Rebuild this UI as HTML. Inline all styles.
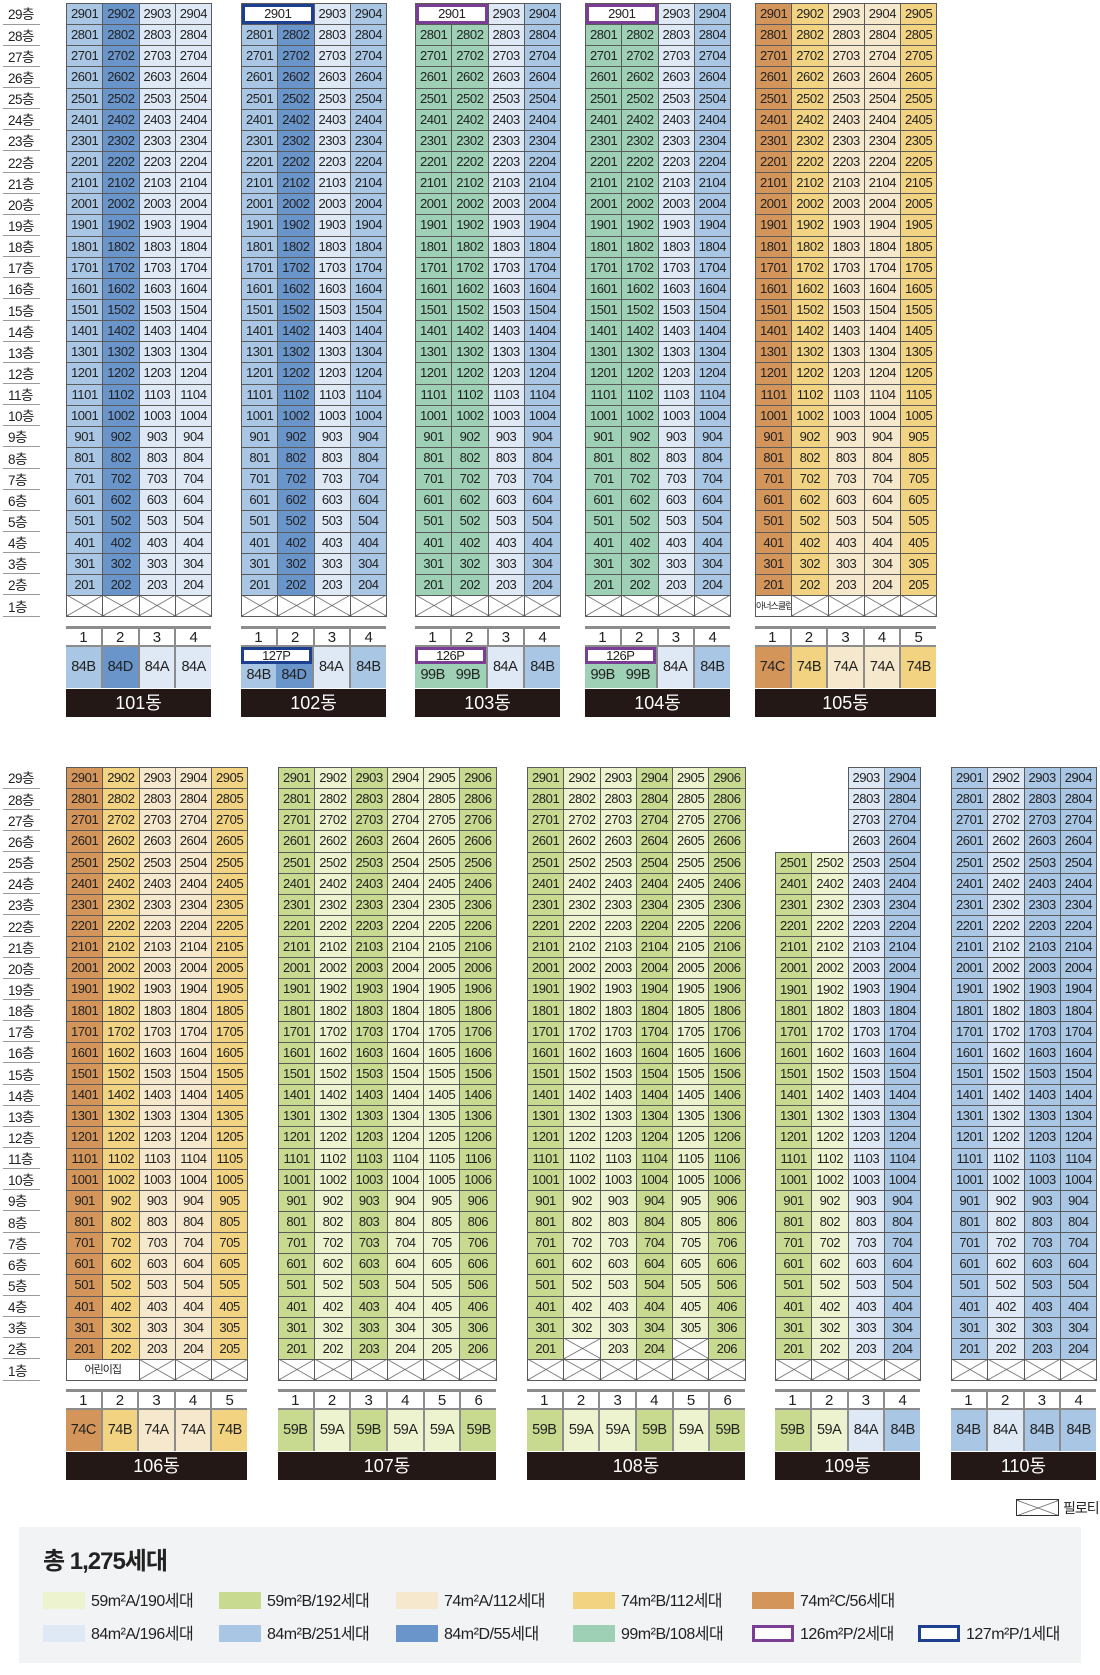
<!DOCTYPE html>
<html><head><meta charset="utf-8"><style>
body{margin:0;width:1100px;height:1675px;background:#fff;position:relative;font-family:"Liberation Sans","Noto Sans CJK KR",sans-serif;color:#222;overflow:hidden}
table{position:absolute;border-collapse:collapse;table-layout:fixed}
.g col{width:36.25px}
.g td{height:20.15px;padding:0;border:1px solid #5a5a5a;text-align:center;font-size:13px;letter-spacing:-0.4px;line-height:20px;white-space:nowrap;overflow:hidden}
.g tr{height:21.15px}
.p td,td.p{background:linear-gradient(to top right,transparent calc(50% - .7px),#555 50%,transparent calc(50% + .7px)),linear-gradient(to bottom right,transparent calc(50% - .7px),#555 50%,transparent calc(50% + .7px)),#fff!important}
td.nv{background:#fff!important;box-shadow:inset 0 0 0 3px #1d3f8f}
td.pu{background:#fff!important;box-shadow:inset 0 0 0 3px #7a3e95}
td.w{background:#fff!important;font-size:9px;letter-spacing:-1px}
.fl td{width:32px;height:20.15px;padding:0 0 0 5px;border-bottom:1px solid #999;font-size:13.5px;letter-spacing:-0.5px}
.fl tr{height:21.15px}
.A{background:#dfe9f6}.B{background:#a9c6e4}.D{background:#6a95cb}.G{background:#9dd0b4}
.yA{background:#f6e8cc}.yB{background:#f1d382}.yC{background:#d4955a}
.sA{background:#eef3cf}.sB{background:#c8d990}
.ft{position:absolute}
.nums{display:flex;height:16px;border-top:3px solid #8c8c8c}
.nums span,.ty>span{flex:1;text-align:center;border-left:2px solid #8c8c8c}
.nums span:first-child,.ty>span:first-child{border-left:none}
.nums span{font-size:15px;line-height:17px;background:#fff}
.ty{display:flex;height:41px;border-top:2px solid #8c8c8c}
.ty>span{font-size:14.5px;line-height:41px;letter-spacing:-0.5px}
.nm{height:28px;margin-top:1px;background:#231815;color:#fff;text-align:center;font-size:18px;line-height:29px}
.two{flex:2!important;display:flex;flex-direction:column;line-height:normal!important}
.two .bx{height:17px;line-height:17px;background:#fff;font-size:13px;box-sizing:border-box}
.two .hv{display:flex;flex:1}
.two .hv span{flex:1;line-height:23px;text-align:center}
.lg{position:absolute;left:19px;top:1527px;width:1062px;height:136px;background:#f2f3f5}
.it{position:absolute;font-size:16px;letter-spacing:-0.5px;line-height:18px;white-space:nowrap}
.it i{display:inline-block;width:42px;height:17px;vertical-align:-3px;margin-right:6px;box-sizing:border-box}
</style></head><body>

<table class="fl" style="left:3px;top:3px"><tr><td>29층<tr><td>28층<tr><td>27층<tr><td>26층<tr><td>25층<tr><td>24층<tr><td>23층<tr><td>22층<tr><td>21층<tr><td>20층<tr><td>19층<tr><td>18층<tr><td>17층<tr><td>16층<tr><td>15층<tr><td>14층<tr><td>13층<tr><td>12층<tr><td>11층<tr><td>10층<tr><td>9층<tr><td>8층<tr><td>7층<tr><td>6층<tr><td>5층<tr><td>4층<tr><td>3층<tr><td>2층<tr><td>1층</table>
<table class="fl" style="left:3px;top:767px"><tr><td>29층<tr><td>28층<tr><td>27층<tr><td>26층<tr><td>25층<tr><td>24층<tr><td>23층<tr><td>22층<tr><td>21층<tr><td>20층<tr><td>19층<tr><td>18층<tr><td>17층<tr><td>16층<tr><td>15층<tr><td>14층<tr><td>13층<tr><td>12층<tr><td>11층<tr><td>10층<tr><td>9층<tr><td>8층<tr><td>7층<tr><td>6층<tr><td>5층<tr><td>4층<tr><td>3층<tr><td>2층<tr><td>1층</table>

<!-- 101 -->
<table class="g" style="left:66px;top:3px;width:145px"><colgroup><col class="B"><col class="D"><col class="A"><col class="A"></colgroup>
<tr><td>2901<td>2902<td>2903<td>2904<tr><td>2801<td>2802<td>2803<td>2804<tr><td>2701<td>2702<td>2703<td>2704<tr><td>2601<td>2602<td>2603<td>2604<tr><td>2501<td>2502<td>2503<td>2504<tr><td>2401<td>2402<td>2403<td>2404<tr><td>2301<td>2302<td>2303<td>2304<tr><td>2201<td>2202<td>2203<td>2204<tr><td>2101<td>2102<td>2103<td>2104<tr><td>2001<td>2002<td>2003<td>2004<tr><td>1901<td>1902<td>1903<td>1904<tr><td>1801<td>1802<td>1803<td>1804<tr><td>1701<td>1702<td>1703<td>1704<tr><td>1601<td>1602<td>1603<td>1604<tr><td>1501<td>1502<td>1503<td>1504<tr><td>1401<td>1402<td>1403<td>1404<tr><td>1301<td>1302<td>1303<td>1304<tr><td>1201<td>1202<td>1203<td>1204<tr><td>1101<td>1102<td>1103<td>1104<tr><td>1001<td>1002<td>1003<td>1004<tr><td>901<td>902<td>903<td>904<tr><td>801<td>802<td>803<td>804<tr><td>701<td>702<td>703<td>704<tr><td>601<td>602<td>603<td>604<tr><td>501<td>502<td>503<td>504<tr><td>401<td>402<td>403<td>404<tr><td>301<td>302<td>303<td>304<tr><td>201<td>202<td>203<td>204<tr class="p"><td><td><td><td></table>
<div class="ft" style="left:66px;top:626px;width:145px"><div class="nums"><span>1</span><span>2</span><span>3</span><span>4</span></div><div class="ty"><span class="B">84B</span><span class="D">84D</span><span class="A">84A</span><span class="A">84A</span></div><div class="nm">101동</div></div>

<!-- 102 -->
<table class="g" style="left:241px;top:3px;width:145px"><colgroup><col class="B"><col class="D"><col class="A"><col class="B"></colgroup>
<tr><td colspan="2" class="nv">2901<td>2903<td>2904<tr><td>2801<td>2802<td>2803<td>2804<tr><td>2701<td>2702<td>2703<td>2704<tr><td>2601<td>2602<td>2603<td>2604<tr><td>2501<td>2502<td>2503<td>2504<tr><td>2401<td>2402<td>2403<td>2404<tr><td>2301<td>2302<td>2303<td>2304<tr><td>2201<td>2202<td>2203<td>2204<tr><td>2101<td>2102<td>2103<td>2104<tr><td>2001<td>2002<td>2003<td>2004<tr><td>1901<td>1902<td>1903<td>1904<tr><td>1801<td>1802<td>1803<td>1804<tr><td>1701<td>1702<td>1703<td>1704<tr><td>1601<td>1602<td>1603<td>1604<tr><td>1501<td>1502<td>1503<td>1504<tr><td>1401<td>1402<td>1403<td>1404<tr><td>1301<td>1302<td>1303<td>1304<tr><td>1201<td>1202<td>1203<td>1204<tr><td>1101<td>1102<td>1103<td>1104<tr><td>1001<td>1002<td>1003<td>1004<tr><td>901<td>902<td>903<td>904<tr><td>801<td>802<td>803<td>804<tr><td>701<td>702<td>703<td>704<tr><td>601<td>602<td>603<td>604<tr><td>501<td>502<td>503<td>504<tr><td>401<td>402<td>403<td>404<tr><td>301<td>302<td>303<td>304<tr><td>201<td>202<td>203<td>204<tr class="p"><td><td><td><td></table>
<div class="ft" style="left:241px;top:626px;width:145px"><div class="nums"><span>1</span><span>2</span><span>3</span><span>4</span></div><div class="ty"><span class="two"><span class="bx" style="border:3px solid #1d3f8f;line-height:11px">127P</span><span class="hv"><span class="B">84B</span><span class="D">84D</span></span></span><span class="A">84A</span><span class="B">84B</span></div><div class="nm">102동</div></div>

<!-- 103 -->
<table class="g" style="left:415px;top:3px;width:145px"><colgroup><col class="G"><col class="G"><col class="A"><col class="B"></colgroup>
<tr><td colspan="2" class="pu">2901<td>2903<td>2904<tr><td>2801<td>2802<td>2803<td>2804<tr><td>2701<td>2702<td>2703<td>2704<tr><td>2601<td>2602<td>2603<td>2604<tr><td>2501<td>2502<td>2503<td>2504<tr><td>2401<td>2402<td>2403<td>2404<tr><td>2301<td>2302<td>2303<td>2304<tr><td>2201<td>2202<td>2203<td>2204<tr><td>2101<td>2102<td>2103<td>2104<tr><td>2001<td>2002<td>2003<td>2004<tr><td>1901<td>1902<td>1903<td>1904<tr><td>1801<td>1802<td>1803<td>1804<tr><td>1701<td>1702<td>1703<td>1704<tr><td>1601<td>1602<td>1603<td>1604<tr><td>1501<td>1502<td>1503<td>1504<tr><td>1401<td>1402<td>1403<td>1404<tr><td>1301<td>1302<td>1303<td>1304<tr><td>1201<td>1202<td>1203<td>1204<tr><td>1101<td>1102<td>1103<td>1104<tr><td>1001<td>1002<td>1003<td>1004<tr><td>901<td>902<td>903<td>904<tr><td>801<td>802<td>803<td>804<tr><td>701<td>702<td>703<td>704<tr><td>601<td>602<td>603<td>604<tr><td>501<td>502<td>503<td>504<tr><td>401<td>402<td>403<td>404<tr><td>301<td>302<td>303<td>304<tr><td>201<td>202<td>203<td>204<tr class="p"><td><td><td><td></table>
<div class="ft" style="left:415px;top:626px;width:145px"><div class="nums"><span>1</span><span>2</span><span>3</span><span>4</span></div><div class="ty"><span class="two"><span class="bx" style="border:3px solid #7a3e95;line-height:11px">126P</span><span class="hv"><span class="G">99B</span><span class="G">99B</span></span></span><span class="A">84A</span><span class="B">84B</span></div><div class="nm">103동</div></div>

<!-- 104 -->
<table class="g" style="left:585px;top:3px;width:145px"><colgroup><col class="G"><col class="G"><col class="A"><col class="B"></colgroup>
<tr><td colspan="2" class="pu">2901<td>2903<td>2904<tr><td>2801<td>2802<td>2803<td>2804<tr><td>2701<td>2702<td>2703<td>2704<tr><td>2601<td>2602<td>2603<td>2604<tr><td>2501<td>2502<td>2503<td>2504<tr><td>2401<td>2402<td>2403<td>2404<tr><td>2301<td>2302<td>2303<td>2304<tr><td>2201<td>2202<td>2203<td>2204<tr><td>2101<td>2102<td>2103<td>2104<tr><td>2001<td>2002<td>2003<td>2004<tr><td>1901<td>1902<td>1903<td>1904<tr><td>1801<td>1802<td>1803<td>1804<tr><td>1701<td>1702<td>1703<td>1704<tr><td>1601<td>1602<td>1603<td>1604<tr><td>1501<td>1502<td>1503<td>1504<tr><td>1401<td>1402<td>1403<td>1404<tr><td>1301<td>1302<td>1303<td>1304<tr><td>1201<td>1202<td>1203<td>1204<tr><td>1101<td>1102<td>1103<td>1104<tr><td>1001<td>1002<td>1003<td>1004<tr><td>901<td>902<td>903<td>904<tr><td>801<td>802<td>803<td>804<tr><td>701<td>702<td>703<td>704<tr><td>601<td>602<td>603<td>604<tr><td>501<td>502<td>503<td>504<tr><td>401<td>402<td>403<td>404<tr><td>301<td>302<td>303<td>304<tr><td>201<td>202<td>203<td>204<tr class="p"><td><td><td><td></table>
<div class="ft" style="left:585px;top:626px;width:145px"><div class="nums"><span>1</span><span>2</span><span>3</span><span>4</span></div><div class="ty"><span class="two"><span class="bx" style="border:3px solid #7a3e95;line-height:11px">126P</span><span class="hv"><span class="G">99B</span><span class="G">99B</span></span></span><span class="A">84A</span><span class="B">84B</span></div><div class="nm">104동</div></div>

<!-- 105 -->
<table class="g" style="left:755px;top:3px;width:181px"><colgroup><col class="yC"><col class="yB"><col class="yA"><col class="yA"><col class="yB"></colgroup>
<tr><td>2901<td>2902<td>2903<td>2904<td>2905<tr><td>2801<td>2802<td>2803<td>2804<td>2805<tr><td>2701<td>2702<td>2703<td>2704<td>2705<tr><td>2601<td>2602<td>2603<td>2604<td>2605<tr><td>2501<td>2502<td>2503<td>2504<td>2505<tr><td>2401<td>2402<td>2403<td>2404<td>2405<tr><td>2301<td>2302<td>2303<td>2304<td>2305<tr><td>2201<td>2202<td>2203<td>2204<td>2205<tr><td>2101<td>2102<td>2103<td>2104<td>2105<tr><td>2001<td>2002<td>2003<td>2004<td>2005<tr><td>1901<td>1902<td>1903<td>1904<td>1905<tr><td>1801<td>1802<td>1803<td>1804<td>1805<tr><td>1701<td>1702<td>1703<td>1704<td>1705<tr><td>1601<td>1602<td>1603<td>1604<td>1605<tr><td>1501<td>1502<td>1503<td>1504<td>1505<tr><td>1401<td>1402<td>1403<td>1404<td>1405<tr><td>1301<td>1302<td>1303<td>1304<td>1305<tr><td>1201<td>1202<td>1203<td>1204<td>1205<tr><td>1101<td>1102<td>1103<td>1104<td>1105<tr><td>1001<td>1002<td>1003<td>1004<td>1005<tr><td>901<td>902<td>903<td>904<td>905<tr><td>801<td>802<td>803<td>804<td>805<tr><td>701<td>702<td>703<td>704<td>705<tr><td>601<td>602<td>603<td>604<td>605<tr><td>501<td>502<td>503<td>504<td>505<tr><td>401<td>402<td>403<td>404<td>405<tr><td>301<td>302<td>303<td>304<td>305<tr><td>201<td>202<td>203<td>204<td>205<tr><td class="w">아너스클럽<td class="p"><td class="p"><td class="p"><td class="p"></table>
<div class="ft" style="left:755px;top:626px;width:181px"><div class="nums"><span>1</span><span>2</span><span>3</span><span>4</span><span>5</span></div><div class="ty"><span class="yC">74C</span><span class="yB">74B</span><span class="yA">74A</span><span class="yA">74A</span><span class="yB">74B</span></div><div class="nm">105동</div></div>

<!-- 106 -->
<table class="g" style="left:66px;top:767px;width:181px"><colgroup><col class="yC"><col class="yB"><col class="yA"><col class="yA"><col class="yB"></colgroup>
<tr><td>2901<td>2902<td>2903<td>2904<td>2905<tr><td>2801<td>2802<td>2803<td>2804<td>2805<tr><td>2701<td>2702<td>2703<td>2704<td>2705<tr><td>2601<td>2602<td>2603<td>2604<td>2605<tr><td>2501<td>2502<td>2503<td>2504<td>2505<tr><td>2401<td>2402<td>2403<td>2404<td>2405<tr><td>2301<td>2302<td>2303<td>2304<td>2305<tr><td>2201<td>2202<td>2203<td>2204<td>2205<tr><td>2101<td>2102<td>2103<td>2104<td>2105<tr><td>2001<td>2002<td>2003<td>2004<td>2005<tr><td>1901<td>1902<td>1903<td>1904<td>1905<tr><td>1801<td>1802<td>1803<td>1804<td>1805<tr><td>1701<td>1702<td>1703<td>1704<td>1705<tr><td>1601<td>1602<td>1603<td>1604<td>1605<tr><td>1501<td>1502<td>1503<td>1504<td>1505<tr><td>1401<td>1402<td>1403<td>1404<td>1405<tr><td>1301<td>1302<td>1303<td>1304<td>1305<tr><td>1201<td>1202<td>1203<td>1204<td>1205<tr><td>1101<td>1102<td>1103<td>1104<td>1105<tr><td>1001<td>1002<td>1003<td>1004<td>1005<tr><td>901<td>902<td>903<td>904<td>905<tr><td>801<td>802<td>803<td>804<td>805<tr><td>701<td>702<td>703<td>704<td>705<tr><td>601<td>602<td>603<td>604<td>605<tr><td>501<td>502<td>503<td>504<td>505<tr><td>401<td>402<td>403<td>404<td>405<tr><td>301<td>302<td>303<td>304<td>305<tr><td>201<td>202<td>203<td>204<td>205<tr><td colspan="2" class="w" style="font-size:11px">어린이집<td class="p"><td class="p"><td class="p"></table>
<div class="ft" style="left:66px;top:1389px;width:181px"><div class="nums"><span>1</span><span>2</span><span>3</span><span>4</span><span>5</span></div><div class="ty"><span class="yC">74C</span><span class="yB">74B</span><span class="yA">74A</span><span class="yA">74A</span><span class="yB">74B</span></div><div class="nm">106동</div></div>

<!-- 107 -->
<table class="g" style="left:278px;top:767px;width:218px"><colgroup><col class="sB"><col class="sA"><col class="sB"><col class="sA"><col class="sA"><col class="sB"></colgroup>
<tr><td>2901<td>2902<td>2903<td>2904<td>2905<td>2906<tr><td>2801<td>2802<td>2803<td>2804<td>2805<td>2806<tr><td>2701<td>2702<td>2703<td>2704<td>2705<td>2706<tr><td>2601<td>2602<td>2603<td>2604<td>2605<td>2606<tr><td>2501<td>2502<td>2503<td>2504<td>2505<td>2506<tr><td>2401<td>2402<td>2403<td>2404<td>2405<td>2406<tr><td>2301<td>2302<td>2303<td>2304<td>2305<td>2306<tr><td>2201<td>2202<td>2203<td>2204<td>2205<td>2206<tr><td>2101<td>2102<td>2103<td>2104<td>2105<td>2106<tr><td>2001<td>2002<td>2003<td>2004<td>2005<td>2006<tr><td>1901<td>1902<td>1903<td>1904<td>1905<td>1906<tr><td>1801<td>1802<td>1803<td>1804<td>1805<td>1806<tr><td>1701<td>1702<td>1703<td>1704<td>1705<td>1706<tr><td>1601<td>1602<td>1603<td>1604<td>1605<td>1606<tr><td>1501<td>1502<td>1503<td>1504<td>1505<td>1506<tr><td>1401<td>1402<td>1403<td>1404<td>1405<td>1406<tr><td>1301<td>1302<td>1303<td>1304<td>1305<td>1306<tr><td>1201<td>1202<td>1203<td>1204<td>1205<td>1206<tr><td>1101<td>1102<td>1103<td>1104<td>1105<td>1106<tr><td>1001<td>1002<td>1003<td>1004<td>1005<td>1006<tr><td>901<td>902<td>903<td>904<td>905<td>906<tr><td>801<td>802<td>803<td>804<td>805<td>806<tr><td>701<td>702<td>703<td>704<td>705<td>706<tr><td>601<td>602<td>603<td>604<td>605<td>606<tr><td>501<td>502<td>503<td>504<td>505<td>506<tr><td>401<td>402<td>403<td>404<td>405<td>406<tr><td>301<td>302<td>303<td>304<td>305<td>306<tr><td>201<td>202<td>203<td>204<td>205<td>206<tr class="p"><td><td><td><td><td><td></table>
<div class="ft" style="left:278px;top:1389px;width:218px"><div class="nums"><span>1</span><span>2</span><span>3</span><span>4</span><span>5</span><span>6</span></div><div class="ty"><span class="sB">59B</span><span class="sA">59A</span><span class="sB">59B</span><span class="sA">59A</span><span class="sA">59A</span><span class="sB">59B</span></div><div class="nm">107동</div></div>

<!-- 108 -->
<table class="g" style="left:527px;top:767px;width:218px"><colgroup><col class="sB"><col class="sA"><col class="sA"><col class="sB"><col class="sA"><col class="sB"></colgroup>
<tr><td>2901<td>2902<td>2903<td>2904<td>2905<td>2906<tr><td>2801<td>2802<td>2803<td>2804<td>2805<td>2806<tr><td>2701<td>2702<td>2703<td>2704<td>2705<td>2706<tr><td>2601<td>2602<td>2603<td>2604<td>2605<td>2606<tr><td>2501<td>2502<td>2503<td>2504<td>2505<td>2506<tr><td>2401<td>2402<td>2403<td>2404<td>2405<td>2406<tr><td>2301<td>2302<td>2303<td>2304<td>2305<td>2306<tr><td>2201<td>2202<td>2203<td>2204<td>2205<td>2206<tr><td>2101<td>2102<td>2103<td>2104<td>2105<td>2106<tr><td>2001<td>2002<td>2003<td>2004<td>2005<td>2006<tr><td>1901<td>1902<td>1903<td>1904<td>1905<td>1906<tr><td>1801<td>1802<td>1803<td>1804<td>1805<td>1806<tr><td>1701<td>1702<td>1703<td>1704<td>1705<td>1706<tr><td>1601<td>1602<td>1603<td>1604<td>1605<td>1606<tr><td>1501<td>1502<td>1503<td>1504<td>1505<td>1506<tr><td>1401<td>1402<td>1403<td>1404<td>1405<td>1406<tr><td>1301<td>1302<td>1303<td>1304<td>1305<td>1306<tr><td>1201<td>1202<td>1203<td>1204<td>1205<td>1206<tr><td>1101<td>1102<td>1103<td>1104<td>1105<td>1106<tr><td>1001<td>1002<td>1003<td>1004<td>1005<td>1006<tr><td>901<td>902<td>903<td>904<td>905<td>906<tr><td>801<td>802<td>803<td>804<td>805<td>806<tr><td>701<td>702<td>703<td>704<td>705<td>706<tr><td>601<td>602<td>603<td>604<td>605<td>606<tr><td>501<td>502<td>503<td>504<td>505<td>506<tr><td>401<td>402<td>403<td>404<td>405<td>406<tr><td>301<td>302<td>303<td>304<td>305<td>306<tr><td>201<td class="p"><td>203<td>204<td class="p"><td>206<tr class="p"><td><td><td><td><td><td></table>
<div class="ft" style="left:527px;top:1389px;width:218px"><div class="nums"><span>1</span><span>2</span><span>3</span><span>4</span><span>5</span><span>6</span></div><div class="ty"><span class="sB">59B</span><span class="sA">59A</span><span class="sA">59A</span><span class="sB">59B</span><span class="sA">59A</span><span class="sB">59B</span></div><div class="nm">108동</div></div>

<!-- 109 -->
<table class="g" style="left:847.5px;top:767px;width:72.5px"><colgroup><col class="A"><col class="B"></colgroup>
<tr><td>2903<td>2904<tr><td>2803<td>2804<tr><td>2703<td>2704<tr><td>2603<td>2604<tr><td>2503<td>2504<tr><td>2403<td>2404<tr><td>2303<td>2304<tr><td>2203<td>2204<tr><td>2103<td>2104<tr><td>2003<td>2004<tr><td>1903<td>1904<tr><td>1803<td>1804<tr><td>1703<td>1704<tr><td>1603<td>1604<tr><td>1503<td>1504<tr><td>1403<td>1404<tr><td>1303<td>1304<tr><td>1203<td>1204<tr><td>1103<td>1104<tr><td>1003<td>1004<tr><td>903<td>904<tr><td>803<td>804<tr><td>703<td>704<tr><td>603<td>604<tr><td>503<td>504<tr><td>403<td>404<tr><td>303<td>304<tr><td>203<td>204<tr class="p"><td><td></table>
<table class="g" style="left:775px;top:851.6px;width:72.5px"><colgroup><col class="sB"><col class="sA"></colgroup>
<tr><td>2501<td>2502<tr><td>2401<td>2402<tr><td>2301<td>2302<tr><td>2201<td>2202<tr><td>2101<td>2102<tr><td>2001<td>2002<tr><td>1901<td>1902<tr><td>1801<td>1802<tr><td>1701<td>1702<tr><td>1601<td>1602<tr><td>1501<td>1502<tr><td>1401<td>1402<tr><td>1301<td>1302<tr><td>1201<td>1202<tr><td>1101<td>1102<tr><td>1001<td>1002<tr><td>901<td>902<tr><td>801<td>802<tr><td>701<td>702<tr><td>601<td>602<tr><td>501<td>502<tr><td>401<td>402<tr><td>301<td>302<tr><td>201<td>202<tr class="p"><td><td></table>
<div class="ft" style="left:775px;top:1389px;width:145px"><div class="nums"><span>1</span><span>2</span><span>3</span><span>4</span></div><div class="ty"><span class="sB">59B</span><span class="sA">59A</span><span class="A">84A</span><span class="B">84B</span></div><div class="nm">109동</div></div>

<!-- 110 -->
<table class="g" style="left:951px;top:767px;width:145px"><colgroup><col class="B"><col class="A"><col class="B"><col class="B"></colgroup>
<tr><td>2901<td>2902<td>2903<td>2904<tr><td>2801<td>2802<td>2803<td>2804<tr><td>2701<td>2702<td>2703<td>2704<tr><td>2601<td>2602<td>2603<td>2604<tr><td>2501<td>2502<td>2503<td>2504<tr><td>2401<td>2402<td>2403<td>2404<tr><td>2301<td>2302<td>2303<td>2304<tr><td>2201<td>2202<td>2203<td>2204<tr><td>2101<td>2102<td>2103<td>2104<tr><td>2001<td>2002<td>2003<td>2004<tr><td>1901<td>1902<td>1903<td>1904<tr><td>1801<td>1802<td>1803<td>1804<tr><td>1701<td>1702<td>1703<td>1704<tr><td>1601<td>1602<td>1603<td>1604<tr><td>1501<td>1502<td>1503<td>1504<tr><td>1401<td>1402<td>1403<td>1404<tr><td>1301<td>1302<td>1303<td>1304<tr><td>1201<td>1202<td>1203<td>1204<tr><td>1101<td>1102<td>1103<td>1104<tr><td>1001<td>1002<td>1003<td>1004<tr><td>901<td>902<td>903<td>904<tr><td>801<td>802<td>803<td>804<tr><td>701<td>702<td>703<td>704<tr><td>601<td>602<td>603<td>604<tr><td>501<td>502<td>503<td>504<tr><td>401<td>402<td>403<td>404<tr><td>301<td>302<td>303<td>304<tr><td>201<td>202<td>203<td>204<tr class="p"><td><td><td><td></table>
<div class="ft" style="left:951px;top:1389px;width:145px"><div class="nums"><span>1</span><span>2</span><span>3</span><span>4</span></div><div class="ty"><span class="B">84B</span><span class="A">84A</span><span class="B">84B</span><span class="B">84B</span></div><div class="nm">110동</div></div>

<!-- pilotis legend -->
<table class="g" style="left:1016px;top:1499px;width:42px"><colgroup><col style="width:42px"></colgroup><tr class="p" style="height:16px"><td style="height:14px;border:1px solid #333"></td></tr></table>
<div style="position:absolute;left:1063px;top:1498px;font-size:14px;white-space:nowrap;letter-spacing:-1px">필로티</div>

<!-- legend -->
<div class="lg"></div>
<div style="position:absolute;left:43px;top:1541px;font-size:24px;font-weight:bold;letter-spacing:-1px">총 1,275세대</div>
<div class="it" style="left:43px;top:1592px"><i class="sA"></i>59m²A/190세대</div>
<div class="it" style="left:219px;top:1592px"><i class="sB"></i>59m²B/192세대</div>
<div class="it" style="left:396px;top:1592px"><i class="yA"></i>74m²A/112세대</div>
<div class="it" style="left:573px;top:1592px"><i class="yB"></i>74m²B/112세대</div>
<div class="it" style="left:752px;top:1592px"><i class="yC"></i>74m²C/56세대</div>
<div class="it" style="left:43px;top:1625px"><i class="A"></i>84m²A/196세대</div>
<div class="it" style="left:219px;top:1625px"><i class="B"></i>84m²B/251세대</div>
<div class="it" style="left:396px;top:1625px"><i class="D"></i>84m²D/55세대</div>
<div class="it" style="left:573px;top:1625px"><i class="G"></i>99m²B/108세대</div>
<div class="it" style="left:752px;top:1625px"><i style="background:#fff;border:3px solid #7a3e95"></i>126m²P/2세대</div>
<div class="it" style="left:918px;top:1625px"><i style="background:#fff;border:3px solid #1d3f8f"></i>127m²P/1세대</div>
</body></html>
